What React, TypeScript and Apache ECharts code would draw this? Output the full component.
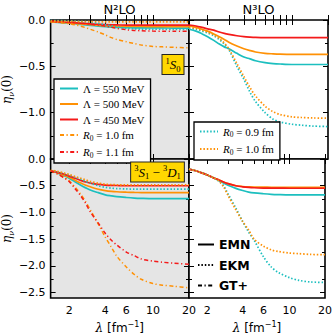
import React, { useEffect, useRef } from "react";
import * as echarts from "echarts";

// lambda grid [fm^-1]
const LAMBDA = [1.4, 1.6, 1.8, 2, 2.25, 2.5, 2.75, 3, 3.5, 4, 4.5, 5, 6, 7, 8, 10, 12, 15, 20];

// 1S0, N2LO
const S0_N2_EMN550 = [-0.02, -0.025, -0.03, -0.035, -0.04, -0.047, -0.053, -0.058, -0.066, -0.072, -0.076, -0.079, -0.082, -0.084, -0.085, -0.086, -0.086, -0.087, -0.087];
const S0_N2_EMN500 = [-0.02, -0.023, -0.027, -0.031, -0.036, -0.041, -0.046, -0.05, -0.057, -0.062, -0.065, -0.067, -0.069, -0.07, -0.07, -0.071, -0.071, -0.071, -0.071];
const S0_N2_EMN450 = [-0.018, -0.02, -0.023, -0.026, -0.03, -0.034, -0.038, -0.041, -0.046, -0.05, -0.052, -0.053, -0.055, -0.055, -0.056, -0.056, -0.056, -0.056, -0.056];
const S0_N2_EKM09 = [-0.005, -0.006, -0.008, -0.01, -0.013, -0.016, -0.02, -0.025, -0.037, -0.05, -0.063, -0.074, -0.088, -0.095, -0.098, -0.1, -0.1, -0.101, -0.101];
const S0_N2_EKM10 = [-0.012, -0.013, -0.014, -0.015, -0.016, -0.017, -0.018, -0.018, -0.019, -0.02, -0.02, -0.02, -0.021, -0.021, -0.021, -0.021, -0.021, -0.021, -0.021];
const S0_N2_GT10 = [-0.02, -0.025, -0.032, -0.04, -0.052, -0.067, -0.083, -0.1, -0.13, -0.16, -0.19, -0.21, -0.235, -0.255, -0.27, -0.285, -0.29, -0.295, -0.3];
const S0_N2_GT11 = [-0.01, -0.012, -0.015, -0.02, -0.025, -0.031, -0.038, -0.045, -0.056, -0.067, -0.079, -0.09, -0.105, -0.112, -0.116, -0.12, -0.121, -0.122, -0.122];

// 1S0, N3LO
const S0_N3_EMN550 = [-0.1, -0.12, -0.15, -0.18, -0.22, -0.26, -0.29, -0.31, -0.36, -0.4, -0.42, -0.44, -0.46, -0.47, -0.475, -0.48, -0.48, -0.48, -0.48];
const S0_N3_EMN500 = [-0.065, -0.08, -0.1, -0.12, -0.15, -0.18, -0.21, -0.24, -0.28, -0.31, -0.33, -0.345, -0.36, -0.365, -0.368, -0.37, -0.37, -0.37, -0.37];
const S0_N3_EMN450 = [-0.054, -0.065, -0.08, -0.095, -0.11, -0.13, -0.145, -0.155, -0.17, -0.18, -0.185, -0.188, -0.19, -0.19, -0.19, -0.19, -0.19, -0.19, -0.19];
const S0_N3_EKM09 = [-0.09, -0.1, -0.12, -0.14, -0.17, -0.21, -0.26, -0.32, -0.5, -0.64, -0.78, -0.88, -1.0, -1.07, -1.1, -1.125, -1.135, -1.145, -1.15];
const S0_N3_EKM10 = [-0.08, -0.09, -0.11, -0.13, -0.16, -0.2, -0.25, -0.31, -0.47, -0.61, -0.73, -0.82, -0.93, -0.99, -1.02, -1.045, -1.052, -1.057, -1.06];

// 3S1-3D1, N2LO
const S1_N2_EMN550 = [-0.22, -0.26, -0.31, -0.36, -0.43, -0.49, -0.54, -0.58, -0.63, -0.67, -0.69, -0.705, -0.72, -0.73, -0.735, -0.74, -0.74, -0.74, -0.74];
const S1_N2_EMN500 = [-0.22, -0.255, -0.3, -0.34, -0.4, -0.45, -0.49, -0.52, -0.565, -0.59, -0.605, -0.613, -0.62, -0.625, -0.628, -0.63, -0.63, -0.63, -0.63];
const S1_N2_EMN450 = [-0.22, -0.25, -0.28, -0.32, -0.36, -0.4, -0.43, -0.45, -0.475, -0.487, -0.493, -0.496, -0.5, -0.5, -0.5, -0.5, -0.5, -0.5, -0.5];
const S1_N2_EKM09 = [-0.22, -0.24, -0.27, -0.3, -0.34, -0.38, -0.42, -0.45, -0.5, -0.53, -0.545, -0.553, -0.56, -0.563, -0.565, -0.565, -0.565, -0.565, -0.565];
const S1_N2_EKM10 = [-0.21, -0.23, -0.26, -0.29, -0.33, -0.36, -0.39, -0.42, -0.45, -0.47, -0.478, -0.482, -0.485, -0.485, -0.485, -0.485, -0.485, -0.485, -0.485];
const S1_N2_GT10 = [-0.22, -0.28, -0.34, -0.41, -0.53, -0.66, -0.8, -0.95, -1.22, -1.46, -1.65, -1.82, -2.02, -2.16, -2.25, -2.33, -2.36, -2.38, -2.41];
const S1_N2_GT11 = [-0.22, -0.28, -0.35, -0.42, -0.56, -0.69, -0.83, -0.99, -1.2, -1.39, -1.52, -1.61, -1.74, -1.81, -1.87, -1.91, -1.93, -1.95, -1.97];

// 3S1-3D1, N3LO
const S1_N3_EMN550 = [-0.19, -0.22, -0.26, -0.3, -0.35, -0.4, -0.45, -0.49, -0.55, -0.59, -0.62, -0.635, -0.65, -0.66, -0.665, -0.67, -0.67, -0.67, -0.67];
const S1_N3_EMN500 = [-0.19, -0.22, -0.26, -0.3, -0.35, -0.39, -0.43, -0.46, -0.5, -0.515, -0.522, -0.525, -0.527, -0.528, -0.528, -0.528, -0.528, -0.528, -0.528];
const S1_N3_EMN450 = [-0.19, -0.22, -0.26, -0.3, -0.35, -0.39, -0.43, -0.46, -0.5, -0.52, -0.532, -0.538, -0.543, -0.545, -0.546, -0.547, -0.547, -0.547, -0.547];
const S1_N3_EKM09 = [-0.19, -0.22, -0.26, -0.3, -0.35, -0.41, -0.5, -0.65, -0.92, -1.17, -1.37, -1.52, -1.83, -2.02, -2.12, -2.22, -2.27, -2.3, -2.31];
const S1_N3_EKM10 = [-0.19, -0.22, -0.26, -0.3, -0.35, -0.41, -0.52, -0.68, -0.95, -1.17, -1.33, -1.5, -1.63, -1.7, -1.73, -1.76, -1.77, -1.785, -1.79];

// axes
const X_TICKS = [2, 3, 4, 5, 6, 7, 8, 9, 10, 20];
const X_LABELS = [2, 4, 6, 10, 20];
const X_MIN = 1.4;
const X_MAX = 20;
const Y_TOP = { min: -1.5, max: 0, major: [0, -0.5, -1.0, -1.5], minor: [-0.25, -0.75, -1.25], labels: [0, -0.5, -1.0] };
const Y_BOT = { min: -2.6, max: 0, major: [0, -0.5, -1.0, -1.5, -2.0, -2.5], minor: [-0.25, -0.75, -1.25, -1.75, -2.25], labels: [0, -0.5, -1.0, -1.5, -2.0, -2.5] };

const CYAN = "#1cbfbf";
const ORANGE = "#ff9105";
const RED = "#f41a1a";

const LEGEND_TEXT: Record<string, string> = {
  "EMN 550": "{g|Λ}{n| = 550 MeV}",
  "EMN 500": "{g|Λ}{n| = 500 MeV}",
  "EMN 450": "{g|Λ}{n| = 450 MeV}",
  "GT+ 1.0": "{i|R}{s|0}{n| = 1.0 fm}",
  "GT+ 1.1": "{i|R}{s|0}{n| = 1.1 fm}",
  "EKM 0.9": "{i|R}{s|0}{n| = 0.9 fm}",
  "EKM 1.0": "{i|R}{s|0}{n| = 1.0 fm}",
  EMN: "EMN",
  EKM: "EKM",
  "GT+": "GT+",
};

const lg = Math.log10;
const SERIF = "Liberation Serif";

export default function App() {
  const ref = useRef<HTMLDivElement>(null);
  useEffect(() => {
    if (!ref.current) return;
    const chart = echarts.init(ref.current, undefined, { renderer: "svg" });

    const grids = [
      { left: 50, top: 20, bg: "#e5e5e5", y: Y_TOP, bottomRow: false, leftCol: true },
      { left: 189, top: 20, bg: "#ffffff", y: Y_TOP, bottomRow: false, leftCol: false },
      { left: 50, top: 159, bg: "#e5e5e5", y: Y_BOT, bottomRow: true, leftCol: true },
      { left: 189, top: 159, bg: "#ffffff", y: Y_BOT, bottomRow: true, leftCol: false },
    ];

    const tickStyle = { color: "#000", width: 1 };
    const xAxes: any[] = [];
    const yAxes: any[] = [];
    grids.forEach((g, gi) => {
      ["bottom", "top"].forEach((pos) => {
        const showLab = pos === "bottom" && g.bottomRow;
        xAxes.push({
          gridIndex: gi,
          type: "value",
          position: pos,
          min: lg(X_MIN),
          max: lg(X_MAX),
          axisLine: { show: false },
          splitLine: { show: false },
          axisTick: { show: true, inside: true, length: 5, customValues: X_TICKS.map(lg), lineStyle: tickStyle },
          axisLabel: {
            show: showLab,
            customValues: X_LABELS.map(lg),
            formatter: (v: number) => String(Math.round(Math.pow(10, v))),
            margin: 7,
            fontSize: 11,
            color: "#000",
            fontFamily: "DejaVu Sans",
          },
          name: showLab ? "{l|λ}{t| [fm}{u|−1}{t|]}" : "",
          nameLocation: "middle",
          nameGap: 22,
          nameTextStyle: {
            rich: {
              l: { fontFamily: "DejaVu Serif", fontStyle: "italic", fontSize: 12, lineHeight: 16, color: "#000" },
              t: { fontFamily: "DejaVu Sans", fontSize: 12, lineHeight: 16, color: "#000" },
              u: { fontFamily: "DejaVu Sans", fontSize: 8, lineHeight: 8, verticalAlign: "top", color: "#000" },
            },
          },
        });
      });
      ["left", "right"].forEach((pos) => {
        const showLab = pos === "left" && g.leftCol;
        yAxes.push({
          gridIndex: gi,
          type: "value",
          position: pos,
          min: g.y.min,
          max: g.y.max,
          axisLine: { show: false },
          splitLine: { show: false },
          axisTick: { show: true, inside: true, length: 5, customValues: g.y.major, lineStyle: tickStyle },
          axisLabel: {
            show: showLab,
            customValues: g.y.labels,
            formatter: (v: number) => (v === 0 ? "0.0" : (v < 0 ? "−" : "") + Math.abs(v).toFixed(1)),
            margin: 5,
            fontSize: 11,
            color: "#000",
            fontFamily: "DejaVu Sans",
          },
          name: showLab ? "{e|η}{v|ν}{p|(0)}" : "",
          nameLocation: "middle",
          nameRotate: 90,
          nameGap: 33,
          nameTextStyle: {
            rich: {
              e: { fontFamily: "DejaVu Serif", fontStyle: "italic", fontSize: 12, lineHeight: 16, color: "#000" },
              v: { fontFamily: "DejaVu Serif", fontStyle: "italic", fontSize: 8, lineHeight: 8, verticalAlign: "bottom", color: "#000" },
              p: { fontFamily: "DejaVu Serif", fontSize: 12, lineHeight: 16, color: "#000" },
            },
          },
        });
        yAxes.push({
          gridIndex: gi,
          type: "value",
          position: pos,
          min: g.y.min,
          max: g.y.max,
          axisLine: { show: false },
          splitLine: { show: false },
          axisTick: { show: true, inside: true, length: 3, customValues: g.y.minor, lineStyle: tickStyle },
          axisLabel: { show: false },
        });
      });
    });

    const toData = (arr: number[]) => LAMBDA.map((l, i) => [lg(l), arr[i]]);
    const styleOf = (kind: string) =>
      kind === "EMN"
        ? { width: 1.7, type: "solid" }
        : kind === "EKM"
        ? { width: 1.7, type: [1.5, 1.9] }
        : { width: 1.5, type: [4, 2.5, 1.2, 2.5] };
    const mk = (name: string, arr: number[] | null, color: string, kind: string, gi: number, z = 2) => ({
      type: "line",
      name,
      xAxisIndex: gi * 2,
      yAxisIndex: gi * 4,
      data: arr ? toData(arr) : [],
      symbol: "none",
      smooth: 0.3,
      z,
      color,
      lineStyle: { color, ...styleOf(kind) },
      itemStyle: { color },
    });

    const series: any[] = [
      // TL
      mk("EMN 550", S0_N2_EMN550, CYAN, "EMN", 0),
      mk("EMN 500", S0_N2_EMN500, ORANGE, "EMN", 0),
      mk("EMN 450", S0_N2_EMN450, RED, "EMN", 0),
      mk("GT+ 1.0", S0_N2_GT10, ORANGE, "GT", 0),
      mk("GT+ 1.1", S0_N2_GT11, RED, "GT", 0),
      mk("EKM 0.9", S0_N2_EKM09, CYAN, "EKM", 0),
      mk("EKM 1.0", S0_N2_EKM10, ORANGE, "EKM", 0),
      // TR
      mk("EMN 550", S0_N3_EMN550, CYAN, "EMN", 1),
      mk("EMN 500", S0_N3_EMN500, ORANGE, "EMN", 1),
      mk("EMN 450", S0_N3_EMN450, RED, "EMN", 1),
      mk("EKM 0.9", S0_N3_EKM09, CYAN, "EKM", 1),
      mk("EKM 1.0", S0_N3_EKM10, ORANGE, "EKM", 1),
      // BL
      mk("EMN 550", S1_N2_EMN550, CYAN, "EMN", 2),
      mk("EMN 500", S1_N2_EMN500, ORANGE, "EMN", 2),
      mk("EMN 450", S1_N2_EMN450, RED, "EMN", 2),
      mk("EKM 0.9", S1_N2_EKM09, CYAN, "EKM", 2),
      mk("EKM 1.0", S1_N2_EKM10, ORANGE, "EKM", 2),
      mk("GT+ 1.0", S1_N2_GT10, ORANGE, "GT", 2),
      mk("GT+ 1.1", S1_N2_GT11, RED, "GT", 2),
      // BR
      mk("EMN 550", S1_N3_EMN550, CYAN, "EMN", 3),
      mk("EMN 500", S1_N3_EMN500, ORANGE, "EMN", 3),
      mk("EMN 450", S1_N3_EMN450, RED, "EMN", 3),
      mk("EKM 0.9", S1_N3_EKM09, CYAN, "EKM", 3),
      mk("EKM 1.0", S1_N3_EKM10, ORANGE, "EKM", 3),
      // style key
      mk("EMN", null, "#000", "EMN", 3),
      mk("EKM", null, "#000", "EKM", 3),
      mk("GT+", null, "#000", "GT", 3),
    ];

    const serifRich = {
      n: { fontFamily: SERIF, fontSize: 11, lineHeight: 14, color: "#000" },
      g: { fontFamily: SERIF, fontSize: 11, lineHeight: 14, color: "#000" },
      i: { fontFamily: SERIF, fontStyle: "italic", fontSize: 11, lineHeight: 14, color: "#000" },
      s: { fontFamily: SERIF, fontSize: 7.5, lineHeight: 7, verticalAlign: "bottom", color: "#000" },
    };
    const fmt = (name: string) => LEGEND_TEXT[name] ?? name;

    const boxRich = {
      m: { fontFamily: SERIF, fontSize: 13, lineHeight: 17, color: "#000" },
      i: { fontFamily: SERIF, fontStyle: "italic", fontSize: 13, lineHeight: 17, color: "#000" },
      sup: { fontFamily: SERIF, fontSize: 8.5, lineHeight: 9, verticalAlign: "top", color: "#000" },
      sub: { fontFamily: SERIF, fontSize: 8.5, lineHeight: 9, verticalAlign: "bottom", color: "#000" },
    };

    const boxLegend = {
      orient: "vertical",
      itemWidth: 18,
      itemHeight: 10,
      padding: [4, 6, 4, 5],
      backgroundColor: "#ffffff",
      borderColor: "#000",
      borderWidth: 1.3,
      borderRadius: 0,
      selectedMode: false,
      formatter: fmt,
      itemStyle: { opacity: 0 },
      textStyle: { rich: serifRich },
    };

    chart.setOption({
      animation: false,
      backgroundColor: "#ffffff",
      grid: grids.map((g) => ({
        left: g.left,
        top: g.top,
        width: 139,
        height: 139,
        show: true,
        backgroundColor: g.bg,
        borderColor: "#000",
        borderWidth: 1.6,
      })),
      xAxis: xAxes,
      yAxis: yAxes,
      legend: [
        {
          ...boxLegend,
          data: ["EMN 550", "EMN 500", "EMN 450", "GT+ 1.0", "GT+ 1.1"],
          left: 54,
          top: 79,
          itemGap: 4.5,
        },
        {
          ...boxLegend,
          data: ["EKM 0.9", "EKM 1.0"],
          left: 194,
          top: 122,
          itemGap: 5,
        },
        {
          data: ["EMN", "EKM", "GT+"],
          orient: "vertical",
          left: 197,
          top: 238,
          itemWidth: 16,
          itemHeight: 12,
          itemGap: 7.5,
          padding: 0,
          selectedMode: false,
          itemStyle: { opacity: 0 },
          textStyle: { fontFamily: "DejaVu Sans", fontWeight: "bold", fontSize: 12.5, color: "#000" },
        },
      ],
      graphic: [
        {
          type: "text",
          x: 119.5,
          y: 9,
          style: { text: "N²LO", fontFamily: "DejaVu Sans", fontSize: 13, fill: "#000", align: "center", verticalAlign: "middle" },
        },
        {
          type: "text",
          x: 258.5,
          y: 9,
          style: { text: "N³LO", fontFamily: "DejaVu Sans", fontSize: 13, fill: "#000", align: "center", verticalAlign: "middle" },
        },
        {
          type: "text",
          x: 173,
          y: 64.5,
          z: 10,
          style: {
            text: "{sup|1}{i|S}{sub|0}",
            rich: boxRich,
            align: "center",
            verticalAlign: "middle",
            backgroundColor: "#ffd700",
            borderColor: "#222",
            borderWidth: 1,
            padding: [1, 3, 1, 3],
          },
        },
        {
          type: "text",
          x: 157.5,
          y: 172,
          z: 10,
          style: {
            text: "{sup|3}{i|S}{sub|1}{m| − }{sup|3}{i|D}{sub|1}",
            rich: boxRich,
            align: "center",
            verticalAlign: "middle",
            backgroundColor: "#ffd700",
            borderColor: "#222",
            borderWidth: 1,
            padding: [1, 3, 1, 3],
          },
        },
      ],
      series,
    });
    return () => chart.dispose();
  }, []);
  return (
    <div
      ref={ref}
      style={{ position: "fixed", left: 0, top: 0, width: 335, height: 335, background: "#fff" }}
    />
  );
}
